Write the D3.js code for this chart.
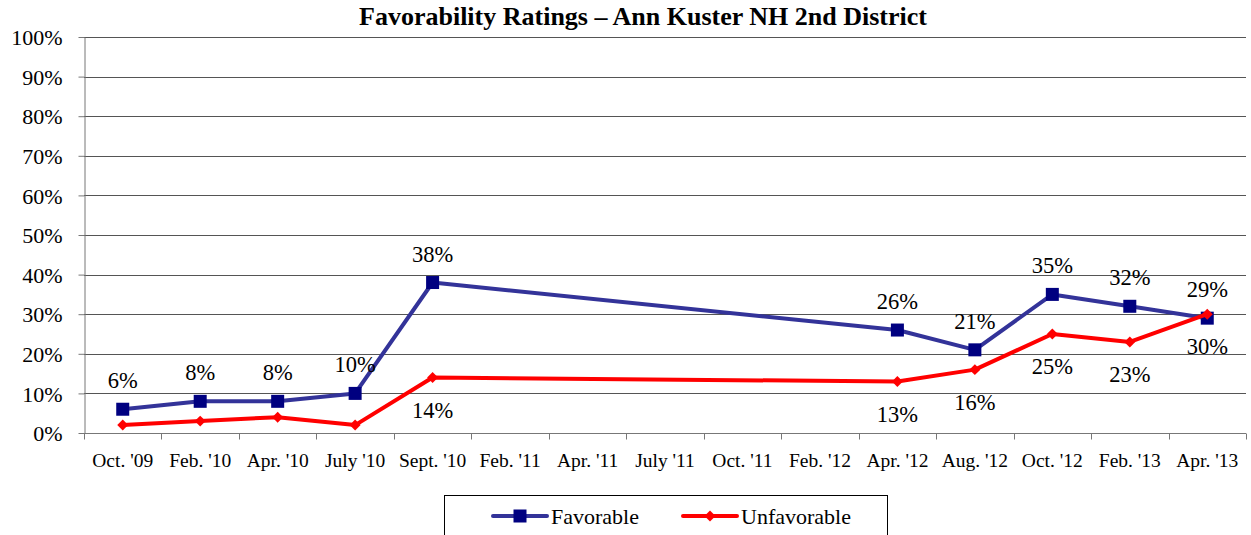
<!DOCTYPE html>
<html>
<head>
<meta charset="utf-8">
<script src="https://cdn.jsdelivr.net/npm/d3@7"></script>
<style>
    body { margin: 0; background: #fff; }
    text { font-family: "Liberation Serif", "Times New Roman", serif; fill: #000; }
</style>
</head>
<body>
<svg id="chart" width="1251" height="535"></svg>
<script>
const categories = ["Oct. '09", "Feb. '10", "Apr. '10", "July '10", "Sept. '10", "Feb. '11", "Apr. '11", "July '11",
    "Oct. '11", "Feb. '12", "Apr. '12", "Aug. '12", "Oct. '12", "Feb. '13", "Apr. '13"]
const favorable = [6, 8, 8, 10, 38, null, null, null, null, null, 26, 21, 35, 32, 29]
const unfavorable = [2, 3, 4, 2, 14, null, null, null, null, null, 13, 16, 25, 23, 30]
// which unfavorable points get a label
const unfavLabeled = [false, false, false, false, true, false, false, false, false, false, true, true, true, true, true]
const yTicks = [0, 10, 20, 30, 40, 50, 60, 70, 80, 90, 100]

const svg = d3.select('#chart')
const margin = { left: 84, right: 5, top: 37, bottom: 102 }
const width = 1251
const height = 535

const x = d3.scaleBand()
    .domain(categories)
    .range([margin.left, width - margin.right])
const y = d3.scaleLinear()
    .domain([0, 100])
    .range([height - margin.bottom, margin.top])

const cx = (i) => x(categories[i]) + x.bandwidth() / 2

// title
svg.append('text')
    .attr('x', 643)
    .attr('y', 25)
    .attr('text-anchor', 'middle')
    .style('font-size', '26px')
    .style('font-weight', 'bold')
    .text('Favorability Ratings – Ann Kuster NH 2nd District')

// gridlines
svg.append('g')
    .selectAll('line')
    .data(yTicks.filter(t => t > 0))
    .enter()
    .append('line')
    .attr('x1', margin.left)
    .attr('x2', width - margin.right)
    .attr('y1', d => Math.round(y(d)) + 0.5)
    .attr('y2', d => Math.round(y(d)) + 0.5)
    .attr('stroke', '#555')

// y axis
const yAxis = svg.append('g')
    .attr('transform', `translate(${margin.left + 0.5},0)`)
    .call(d3.axisLeft(y).tickValues(yTicks).tickFormat(d => d + '%').tickSize(6).tickSizeOuter(0))
yAxis.select('.domain').attr('stroke', '#777')
yAxis.selectAll('.tick line').attr('stroke', '#777')
yAxis.selectAll('.tick text')
    .attr('x', -22)
    .attr('dy', '0.35em')
    .style('font-size', '22px')
    .style('font-family', '"Liberation Serif", serif')

// x axis with ticks between categories
const xg = svg.append('g')
    .attr('transform', `translate(0,${Math.round(y(0)) + 0.5})`)
xg.append('line')
    .attr('x1', margin.left)
    .attr('x2', width - margin.right)
    .attr('stroke', '#777')
xg.selectAll('line.tk')
    .data(d3.range(categories.length + 1))
    .enter()
    .append('line')
    .attr('class', 'tk')
    .attr('x1', i => Math.round(margin.left + i * x.bandwidth()) + 0.5)
    .attr('x2', i => Math.round(margin.left + i * x.bandwidth()) + 0.5)
    .attr('y1', 0)
    .attr('y2', 6)
    .attr('stroke', '#777')
xg.selectAll('text')
    .data(categories)
    .enter()
    .append('text')
    .attr('x', (d, i) => cx(i))
    .attr('y', 33)
    .attr('text-anchor', 'middle')
    .style('font-size', '19.5px')
    .text(d => d)

// lines
const line = d3.line()
    .x(d => cx(d.i))
    .y(d => y(d.v))

const favPts = favorable.map((v, i) => ({ v, i })).filter(d => d.v != null)
const unfPts = unfavorable.map((v, i) => ({ v, i })).filter(d => d.v != null)

svg.append('path')
    .datum(favPts)
    .attr('d', line)
    .attr('fill', 'none')
    .attr('stroke', '#333399')
    .attr('stroke-width', 4)
    .attr('stroke-linejoin', 'round')

svg.append('g')
    .selectAll('rect')
    .data(favPts)
    .enter()
    .append('rect')
    .attr('x', d => cx(d.i) - 6.5)
    .attr('y', d => y(d.v) - 6.5)
    .attr('width', 13)
    .attr('height', 13)
    .attr('fill', '#000080')

svg.append('path')
    .datum(unfPts)
    .attr('d', line)
    .attr('fill', 'none')
    .attr('stroke', '#ff0000')
    .attr('stroke-width', 4)
    .attr('stroke-linejoin', 'round')

const diamond = d3.symbol().type(d3.symbolSquare).size(60)
svg.append('g')
    .selectAll('path')
    .data(unfPts)
    .enter()
    .append('path')
    .attr('transform', d => `translate(${cx(d.i)},${y(d.v)}) rotate(45)`)
    .attr('d', diamond)
    .attr('fill', '#ff0000')

// data labels
svg.append('g')
    .selectAll('text')
    .data(favPts)
    .enter()
    .append('text')
    .attr('x', d => cx(d.i))
    .attr('y', d => y(d.v) - 21)
    .attr('text-anchor', 'middle')
    .style('font-size', '22.5px')
    .text(d => d.v + '%')

svg.append('g')
    .selectAll('text')
    .data(unfPts.filter(d => unfavLabeled[d.i]))
    .enter()
    .append('text')
    .attr('x', d => cx(d.i))
    .attr('y', d => y(d.v) + 40)
    .attr('text-anchor', 'middle')
    .style('font-size', '22.5px')
    .text(d => d.v + '%')

// legend
const legend = svg.append('g')
legend.append('rect')
    .attr('x', 444.5)
    .attr('y', 495.5)
    .attr('width', 443)
    .attr('height', 45)
    .attr('fill', 'none')
    .attr('stroke', '#000')
const ly = 516
const items = [
    { name: 'Favorable', color: '#333399', mark: '#000080', shape: 'square', x: 493 },
    { name: 'Unfavorable', color: '#ff0000', mark: '#ff0000', shape: 'diamond', x: 683 }
]
items.forEach(it => {
    legend.append('line')
        .attr('x1', it.x).attr('x2', it.x + 54)
        .attr('y1', ly).attr('y2', ly)
        .attr('stroke', it.color)
        .attr('stroke-width', 4)
        .attr('stroke-linecap', 'round')
    if (it.shape == 'square')
        legend.append('rect')
            .attr('x', it.x + 27 - 6.5).attr('y', ly - 6.5)
            .attr('width', 13).attr('height', 13)
            .attr('fill', it.mark)
    else
        legend.append('path')
            .attr('transform', `translate(${it.x + 27},${ly}) rotate(45)`)
            .attr('d', diamond)
            .attr('fill', it.mark)
    legend.append('text')
        .attr('x', it.x + 58)
        .attr('y', ly + 7.5)
        .style('font-size', '22px')
        .text(it.name)
})
</script>
</body>
</html>
